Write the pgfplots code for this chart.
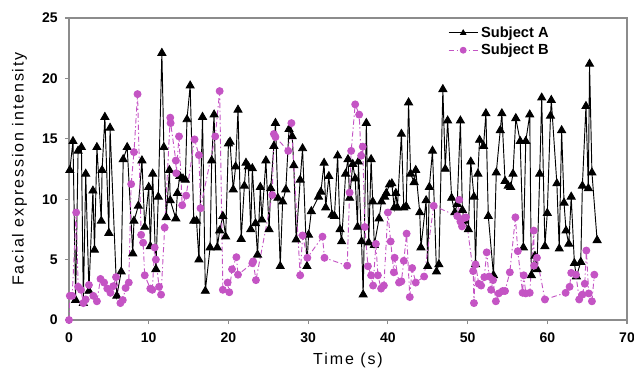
\documentclass[border=0pt]{standalone}
\usepackage{fontspec}
\setmainfont{Liberation Sans}
\newfontfamily\labelfont[LetterSpace=12]{Liberation Sans}
\usepackage{pgfplots}
\pgfplotsset{compat=1.18}
\definecolor{magB}{RGB}{196,84,196}
\definecolor{frameg}{RGB}{140,140,140}
\begin{document}
\begin{tikzpicture}
\useasboundingbox (-51.75pt,-39pt) rectangle (423.75pt,240pt);
\begin{axis}[
  at={(0,0)}, anchor=south west,
  scale only axis, width=418.5pt, height=226.5pt,
  xmin=0, xmax=70, ymin=0, ymax=25,
  xtick={0,10,...,70}, ytick={0,5,...,25},
  axis line style={frameg, line width=0.8pt},
  tick style={frameg, line width=0.8pt},
  tick align=outside, major tick length=3pt,
  xtick pos=bottom, ytick pos=left,
  /pgf/number format/assume math mode=true,
  ticklabel style={font=\fontsize{10.5}{12}\selectfont\bfseries},
  xticklabel style={yshift=-3pt},
  yticklabel style={xshift=-2pt},
  xlabel={Time (s)}, ylabel={Facial expression intensity},
  label style={font=\labelfont\fontsize{12}{14}\selectfont},
  xlabel style={at={(axis description cs:0.5,0)}, anchor=north, yshift=-21pt},
  ylabel style={at={(axis description cs:0,0.5)}, anchor=south, yshift=28pt},
  legend style={at={(0.872,0.99)}, anchor=north east, draw=none, fill=none,
    font=\fontsize{11}{13}\selectfont\bfseries, row sep=-0.5pt},
  legend cell align=left,
  legend image code/.code={\draw[#1] (0pt,0pt) -- (22pt,0pt); \draw[#1,solid,mark size=2.2pt] plot[mark repeat=1] coordinates {(11pt,0pt)};},
]
\addplot[black, line width=0.7pt, mark=triangle*, mark size=3.4pt, mark options={solid}] coordinates {
(0.1,12.4)(0.5,14.8)(0.83,1.65)(1.14,14.0)(1.56,14.3)(1.8,1.4)(2.1,12.1)(2.5,2.4)
(3.0,10.7)(3.2,5.8)(3.5,14.3)(4.05,8.2)(4.15,12.4)(4.5,16.8)(5.0,7.2)(5.15,15.9)
(6.0,2.0)(6.55,4.0)(6.8,13.3)(7.3,14.3)(8.0,5.5)(8.15,8.2)(8.7,9.45)(9.15,13.2)
(9.5,7.7)(10.0,11.0)(10.2,6.1)(10.5,12.1)(10.9,4.2)(11.2,10.2)(11.65,22.1)(11.9,14.3)
(12.2,8.5)(12.6,12.4)(12.7,9.9)(13.4,8.4)(13.6,10.5)(13.9,11.9)(14.3,11.7)(14.6,11.6)
(14.8,16.6)(15.2,19.4)(15.65,8.2)(16.0,8.2)(16.3,5.0)(16.75,16.8)(17.1,2.4)(17.7,6.0)
(17.9,13.2)(18.2,17.0)(18.6,6.0)(18.9,7.4)(19.3,8.6)(19.65,6.9)(20.0,14.6)(20.2,14.75)
(20.6,10.8)(20.9,12.7)(21.2,17.4)(21.6,6.7)(22.0,11.1)(22.2,13.0)(22.5,12.7)(22.8,7.5)
(23.0,12.55)(23.4,8.0)(23.65,5.4)(24.0,11.0)(24.2,8.3)(24.7,13.2)(25.1,7.5)(25.3,10.9)
(25.7,14.4)(25.9,16.3)(26.2,10.1)(26.5,4.45)(26.8,9.8)(27.2,10.8)(27.6,15.8)(28.0,15.2)
(28.2,12.8)(28.5,6.65)(29.0,11.6)(29.3,14.2)(29.85,4.45)(30.05,7.05)(30.4,9.0)(31.3,10.2)
(31.6,10.6)(32.0,13.0)(32.2,9.3)(32.6,11.9)(33.0,8.7)(33.3,8.6)(33.7,13.6)(34.0,7.5)
(34.2,6.5)(34.7,12.1)(35.0,13.3)(35.2,10.1)(35.6,12.9)(35.9,11.7)(36.2,7.7)(36.3,13.1)
(36.7,6.5)(36.9,2.1)(37.3,16.3)(37.6,6.4)(37.9,13.3)(38.1,9.8)(38.3,6.2)(38.9,8.4)
(39.2,9.8)(39.6,10.2)(39.8,10.5)(40.2,11.2)(40.5,11.3)(40.8,9.3)(41.0,10.5)(41.2,9.3)
(41.7,15.4)(42.0,9.3)(42.3,9.4)(42.6,18.0)(42.85,12.1)(43.3,11.4)(43.5,12.4)(44.0,8.9)
(44.15,6.0)(44.8,9.9)(45.0,4.45)(45.2,11.0)(45.6,14.0)(46.1,4.0)(46.4,4.6)(46.9,19.1)
(47.2,12.5)(47.5,16.5)(48.0,10.1)(48.4,8.9)(48.7,9.6)(49.1,16.5)(49.35,9.1)(49.6,8.2)
(50.1,7.5)(50.4,13.1)(50.8,10.2)(51.0,4.6)(51.3,12.1)(51.5,14.9)(52.0,14.4)(52.3,17.1)
(52.6,8.6)(53.25,3.7)(53.6,12.2)(54.1,15.7)(54.3,17.1)(54.7,11.5)(55.1,11.1)(55.4,11.0)
(55.7,12.1)(56.05,16.7)(56.6,14.8)(57.0,6.0)(57.3,14.8)(57.8,17.0)(58.0,3.7)(58.45,5.3)
(58.7,4.2)(59.05,12.1)(59.3,18.4)(59.7,6.1)(60.0,8.85)(60.4,16.9)(60.5,18.2)(61.2,11.3)
(61.5,5.9)(61.8,15.7)(62.1,9.7)(62.35,7.4)(62.7,6.3)(63.0,10.2)(63.4,4.7)(63.65,3.6)
(64.2,4.8)(64.4,11.1)(64.85,17.7)(65.15,10.9)(65.3,21.2)(65.6,12.2)(66.25,6.6)
};
\addlegendentry{Subject A}
\addplot[magB, line width=0.7pt, dash pattern=on 4pt off 2pt on 1pt off 2pt, mark=*, mark size=2.6pt, mark options={solid, magB}] coordinates {
(0,0)(0.1,2.0)(0.4,2.0)(0.9,8.9)(1.15,2.75)(1.5,2.5)(1.8,1.4)(2.1,1.7)(2.5,2.9)
(3.05,2.0)(3.5,1.55)(3.95,3.4)(4.4,3.1)(4.8,2.6)(5.2,2.25)(5.55,2.8)(5.9,3.55)
(6.45,1.4)(6.75,1.65)(7.1,2.65)(7.5,3.1)(7.8,11.25)(8.15,13.9)(8.6,18.7)(9.05,7.05)
(9.3,6.4)(9.5,3.7)(10.2,2.6)(10.45,2.5)(10.75,6.0)(10.9,5.0)(11.3,2.75)(11.55,2.1)
(12.0,7.65)(12.7,16.75)(12.75,16.3)(13.4,13.2)(13.45,12.15)(13.8,15.2)(14.2,9.5)(14.7,10.3)
(15.75,14.95)(16.3,13.65)(16.5,9.25)(18.35,15.2)(18.9,18.95)(19.3,2.5)(19.9,3.1)(20.1,2.3)
(20.45,4.2)(21.0,5.2)(21.2,3.75)(23.0,4.7)(23.1,4.85)(23.45,3.3)(25.5,10.35)(25.7,15.4)
(25.9,15.15)(27.5,14.0)(27.9,16.3)(29.0,3.7)(29.3,7.0)(29.9,5.15)(31.8,6.9)(32.05,5.15)
(34.9,4.5)(35.2,10.55)(35.4,14.0)(35.9,17.85)(36.4,17.0)(36.65,13.6)(36.85,14.35)(37.1,7.7)
(37.5,4.45)(37.9,3.7)(38.15,2.85)(38.5,6.3)(38.75,3.7)(39.15,2.6)(39.5,2.85)(40.0,8.9)
(40.35,6.5)(40.75,3.95)(40.85,5.15)(41.4,3.1)(41.7,3.2)(42.0,4.9)(42.35,7.15)(42.75,1.9)
(43.05,4.3)(43.5,3.1)(44.55,3.6)(45.75,9.45)(48.7,8.6)(48.95,9.95)(49.1,8.15)(49.3,7.75)
(49.6,8.45)(49.8,8.5)(50.7,4.05)(50.8,1.4)(51.0,4.6)(51.4,3.0)(51.7,2.85)(52.1,3.55)
(52.4,5.6)(52.7,3.6)(52.95,2.5)(53.2,3.3)(53.55,1.55)(53.9,2.2)(54.4,2.4)(54.7,2.4)
(55.3,3.95)(56.0,8.5)(56.3,5.7)(56.9,2.25)(57.05,3.7)(57.3,2.2)(57.8,2.25)(58.3,7.4)
(58.35,4.5)(58.7,5.15)(59.7,1.7)(62.3,2.25)(62.8,2.75)(63.0,3.9)(63.6,3.75)(64.0,1.7)
(64.4,2.1)(64.7,3.0)(64.9,5.75)(65.2,2.2)(65.6,1.55)(65.9,3.75)
};
\addlegendentry{Subject B}
\end{axis}
\end{tikzpicture}
\end{document}
